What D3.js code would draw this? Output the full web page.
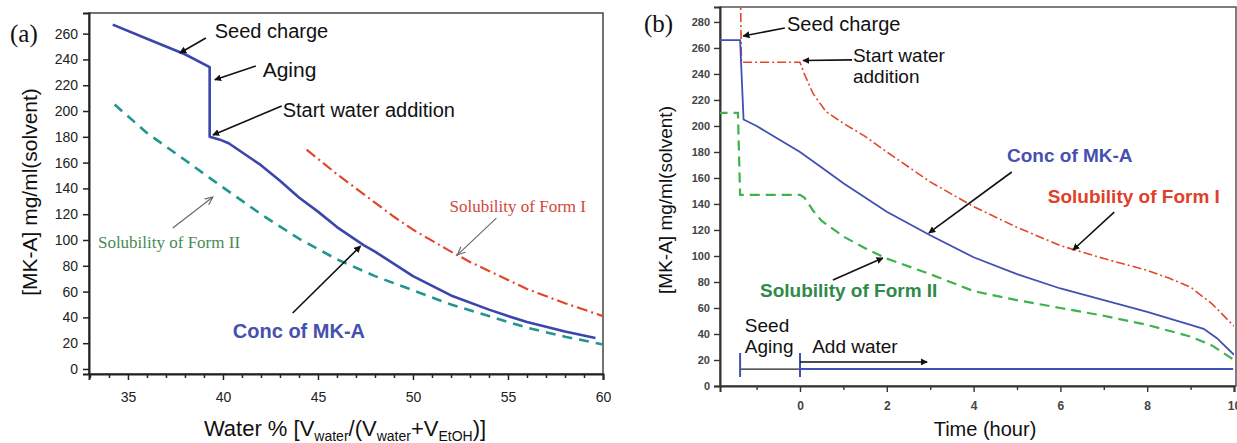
<!DOCTYPE html>
<html>
<head>
<meta charset="utf-8">
<script src="https://cdn.jsdelivr.net/npm/d3@7"></script>
<style>
  body { margin: 0; background: #fff; }
  svg { display: block; font-family: Arial, "Liberation Sans", sans-serif; }
</style>
</head>
<body>
<svg id="chart" width="1237" height="443"></svg>
<script>
// ---- panel (a): concentration vs water % ----
const concA = [[34.2,267],[36,256],[38,244],[39.3,234],[39.3,180],[39.8,178],[40.3,175],[41,168],[41.6,162],[42,158],[43,146],[44,133],[45,122],[46,110],[47.4,96],[48,91],[50,72],[52,57],[54,46],[55,41],[56,36.5],[58,29],[59.6,24]];
const formIIA = [[34.3,205],[36,183],[38,162],[39.5,146],[42,120],[44,101],[46,85],[48,72],[50,61],[52,50],[54,41],[56,32],[58,25],[60,19]];
const formIA = [[44.4,170],[45,163],[46,151],[47,140],[48,129],[49,118],[50,108],[52,91],[53,83],[54,76],[55,69],[56,62],[58,51],[60,41]];
const yTicksA = d3.range(0, 261, 20);
const xTicksA = [35, 40, 45, 50, 55, 60];
const xMinorA = d3.range(33, 61, 1);

// ---- panel (b): concentration vs time ----
const concB = [[-1.9,266],[-1.38,266],[-1.3,205],[-1,200],[-0.5,190],[0,180],[0.5,168],[1,156],[2,134],[3,116],[4,99],[5,86],[6,75],[7,66],[8,57],[9,47],[9.3,44],[9.6,37],[10,24]];
const formIB = [[-1.37,300],[-1.35,249],[0,249],[0.1,240],[0.3,225],[0.6,211],[1,202],[1.5,192],[2,180],[3,157],[4,138],[5,122],[6,108],[7,98],[8,89],[8.5,83],[9,76],[9.5,63],[10,46]];
const formIIB = [[-1.9,210],[-1.43,210],[-1.38,147],[0,147],[0.1,145],[0.3,135],[0.5,127],[1,115],[1.5,106],[2,98],[3,86],[4,73],[5,66],[6,60],[7,54],[8,47],[9,38],[9.5,31],[10,20]];
const yTicksB = d3.range(0, 281, 20);
const xTicksB = [0, 2, 4, 6, 8, 10];
const xMinorB = [-1, 1, 3, 5, 7, 9];
const phaseMarks = [-1.38, 0];

const svg = d3.select('#chart');
const defs = svg.append('defs');
function marker(id, color, open) {
  const m = defs.append('marker').attr('id', id)
    .attr('viewBox', '0 0 10 10').attr('refX', 9).attr('refY', 5)
    .attr('markerWidth', 7).attr('markerHeight', 7)
    .attr('markerUnits', 'userSpaceOnUse').attr('orient', 'auto');
  if (open) {
    m.attr('markerWidth', 9).attr('markerHeight', 9);
    m.append('path').attr('d', 'M0,1 L9,5 L0,9').attr('fill', 'none').attr('stroke', color).attr('stroke-width', 1.2);
  } else {
    m.append('path').attr('d', 'M0,0 L10,5 L0,10 z').attr('fill', color);
  }
}
marker('ab', '#111', false);
marker('ag', '#666', true);

function arrow(g, x, y, p, color, mk, w) {
  g.append('line')
    .attr('x1', x(p[0])).attr('y1', y(p[1]))
    .attr('x2', x(p[2])).attr('y2', y(p[3]))
    .attr('stroke', color).attr('stroke-width', w)
    .attr('marker-end', `url(#${mk})`);
}
function label(g, x, y, pos, txt, size, color, opts = {}) {
  return g.append('text')
    .attr('x', x(pos[0])).attr('y', y(pos[1]))
    .attr('font-size', size).attr('fill', color)
    .attr('font-weight', opts.bold ? 'bold' : null)
    .attr('font-family', opts.serif ? '"Liberation Serif", "Times New Roman", serif' : null)
    .text(txt);
}

// ================= panel (a) =================
const xA = d3.scaleLinear().domain([32.95, 60]).range([89, 603]);
const yA = d3.scaleLinear().domain([-3.9, 276]).range([374, 13]);
const gA = svg.append('g');

gA.append('rect').attr('x', 89).attr('y', 13).attr('width', 514).attr('height', 361)
  .attr('fill', 'none').attr('stroke', '#444').attr('stroke-width', 1.5);

const yAxisA = gA.append('g').attr('transform', 'translate(89,0)')
  .call(d3.axisLeft(yA).tickValues(yTicksA).tickSize(6).tickPadding(5));
const xAxisA = gA.append('g').attr('transform', 'translate(0,374)')
  .call(d3.axisBottom(xA).tickValues(xTicksA).tickSize(6).tickPadding(12));
gA.append('g').attr('transform', 'translate(0,374)')
  .call(d3.axisBottom(xA).tickValues(xMinorA.filter(v => !xTicksA.includes(v))).tickSize(4).tickFormat(''))
  .call(g => g.select('.domain').remove());
[yAxisA, xAxisA].forEach(a => {
  a.select('.domain').attr('stroke', '#222').attr('stroke-width', 2);
  a.selectAll('text').attr('font-size', 14).attr('fill', '#222').attr('font-family', 'Arial, sans-serif');
});
gA.selectAll('.tick line').attr('stroke', '#222').attr('stroke-width', 1.5);

const lineA = d3.line().x(d => xA(d[0])).y(d => yA(d[1])).curve(d3.curveLinear);
gA.append('path').datum(formIIA).attr('d', lineA).attr('fill', 'none')
  .attr('stroke', '#23958f').attr('stroke-width', 2.6).attr('stroke-dasharray', '10,7');
gA.append('path').datum(formIA).attr('d', lineA).attr('fill', 'none')
  .attr('stroke', '#e2462a').attr('stroke-width', 2.2).attr('stroke-dasharray', '11,4,2,4');
gA.append('path').datum(concA).attr('d', lineA).attr('fill', 'none')
  .attr('stroke', '#3a46ab').attr('stroke-width', 2.6).attr('stroke-linejoin', 'round');

label(gA, xA, yA, [39.57, 256.6], 'Seed charge', 20, '#111');
arrow(gA, xA, yA, [39.1, 256.6, 37.73, 245], '#111', 'ab', 1.6);
label(gA, xA, yA, [42.09, 226.4], 'Aging', 21, '#111');
arrow(gA, xA, yA, [41.73, 234.9, 39.57, 224.2], '#111', 'ab', 1.6);
label(gA, xA, yA, [43.14, 195.4], 'Start water addition', 20, '#111');
arrow(gA, xA, yA, [43.09, 203.9, 39.47, 181.4], '#111', 'ab', 1.6);
label(gA, xA, yA, [51.92, 121.7], 'Solubility of Form I', 17, '#d0483a', { serif: true });
arrow(gA, xA, yA, [54.39, 117.0, 52.34, 88.4], '#666', 'ag', 1.1);
label(gA, xA, yA, [33.42, 93.8], 'Solubility of Form II', 17, '#4a8a55', { serif: true });
arrow(gA, xA, yA, [37.36, 109.3, 39.47, 133.3], '#666', 'ag', 1.1);
label(gA, xA, yA, [40.52, 24], 'Conc of MK-A', 20, '#4650ae', { bold: true });
arrow(gA, xA, yA, [43.67, 43.4, 47.24, 95.3], '#111', 'ab', 1.6);

gA.append('text').attr('x', 10).attr('y', 42).attr('font-size', 25)
  .attr('font-family', '"Liberation Serif", serif').attr('fill', '#111').text('(a)');
gA.append('text').attr('transform', 'translate(37,192) rotate(-90)')
  .attr('text-anchor', 'middle').attr('font-size', 21).attr('fill', '#111')
  .text('[MK-A] mg/ml(solvent)');
const xl = gA.append('text').attr('x', 345).attr('y', 436).attr('text-anchor', 'middle')
  .attr('font-size', 22).attr('fill', '#111');
xl.append('tspan').text('Water % [V');
xl.append('tspan').attr('font-size', 14).attr('dy', 5).text('water');
xl.append('tspan').attr('dy', -5).text('/(V');
xl.append('tspan').attr('font-size', 14).attr('dy', 5).text('water');
xl.append('tspan').attr('dy', -5).text('+V');
xl.append('tspan').attr('font-size', 14).attr('dy', 5).text('EtOH');
xl.append('tspan').attr('dy', -5).text(')]');

// ================= panel (b) =================
const xB = d3.scaleLinear().domain([-1.843, 10]).range([720, 1234]);
const yB = d3.scaleLinear().domain([0, 291.5]).range([386, 7]);
const gB = svg.append('g');
defs.append('clipPath').attr('id', 'clipB').append('rect')
  .attr('x', 720).attr('y', 7).attr('width', 514).attr('height', 379);

gB.append('rect').attr('x', 720).attr('y', 7).attr('width', 516).attr('height', 379)
  .attr('fill', 'none').attr('stroke', '#555').attr('stroke-width', 1.5);

const yAxisB = gB.append('g').attr('transform', 'translate(720,0)')
  .call(d3.axisLeft(yB).tickValues(yTicksB).tickSize(6).tickPadding(4));
const xAxisB = gB.append('g').attr('transform', 'translate(0,386)')
  .call(d3.axisBottom(xB).tickValues(xTicksB).tickSize(6).tickPadding(9));
gB.append('g').attr('transform', 'translate(0,386)')
  .call(d3.axisBottom(xB).tickValues(xMinorB).tickSize(4).tickFormat(''))
  .call(g => g.select('.domain').remove());
[yAxisB, xAxisB].forEach(a => {
  a.select('.domain').attr('stroke', '#333').attr('stroke-width', 2);
  a.selectAll('text').attr('font-size', 11).attr('font-weight', 'bold').attr('fill', '#444')
    .attr('font-family', 'Arial, sans-serif');
});
xAxisB.selectAll('text').attr('font-size', 12);
gB.selectAll('.tick line').attr('stroke', '#333').attr('stroke-width', 1.4);

const lineB = d3.line().x(d => xB(d[0])).y(d => yB(d[1])).curve(d3.curveLinear);
const plotB = gB.append('g').attr('clip-path', 'url(#clipB)');
plotB.append('path').datum(formIIB).attr('d', lineB).attr('fill', 'none')
  .attr('stroke', '#3db24d').attr('stroke-width', 2.2).attr('stroke-dasharray', '10,6');
plotB.append('path').datum(formIB).attr('d', lineB).attr('fill', 'none')
  .attr('stroke', '#e2462a').attr('stroke-width', 1.6).attr('stroke-dasharray', '9,3,2,3');
plotB.append('path').datum(concB).attr('d', lineB).attr('fill', 'none')
  .attr('stroke', '#4150b2').attr('stroke-width', 1.8);

// phase timeline
plotB.append('line').attr('x1', xB(phaseMarks[0])).attr('x2', xB(phaseMarks[1]))
  .attr('y1', yB(13)).attr('y2', yB(13)).attr('stroke', '#222').attr('stroke-width', 1.4);
plotB.append('line').attr('x1', xB(phaseMarks[1])).attr('x2', xB(9.98))
  .attr('y1', yB(13)).attr('y2', yB(13)).attr('stroke', '#4150b2').attr('stroke-width', 2);
plotB.selectAll('.phase').data(phaseMarks).join('line').attr('class', 'phase')
  .attr('x1', d => xB(d)).attr('x2', d => xB(d))
  .attr('y1', yB(25.4)).attr('y2', yB(6.9)).attr('stroke', '#4150b2').attr('stroke-width', 2);
arrow(gB, xB, yB, [0, 18.5, 2.93, 18.5], '#111', 'ab', 1.4);

label(gB, xB, yB, [-0.30, 273], 'Seed charge', 20, '#111');
arrow(gB, xB, yB, [-0.35, 275.4, -1.31, 269.2], '#111', 'ab', 1.6);
label(gB, xB, yB, [1.22, 249], 'Start water', 19, '#111');
label(gB, xB, yB, [1.22, 233], 'addition', 19, '#111');
arrow(gB, xB, yB, [1.2, 250.8, 0.07, 250.3], '#111', 'ab', 1.6);
label(gB, xB, yB, [4.77, 172.3], 'Conc of MK-A', 19, '#4650ae', { bold: true });
arrow(gB, xB, yB, [4.88, 164.6, 2.97, 117.7], '#111', 'ab', 1.6);
label(gB, xB, yB, [5.71, 140.8], 'Solubility of Form I', 19, '#e0402a', { bold: true });
arrow(gB, xB, yB, [7.24, 133.8, 6.29, 104.6], '#111', 'ab', 1.6);
label(gB, xB, yB, [-0.92, 68.5], 'Solubility of Form II', 19, '#2e8a48', { bold: true });
arrow(gB, xB, yB, [0.76, 81.5, 1.91, 98.5], '#111', 'ab', 1.6);
label(gB, xB, yB, [-1.27, 41.5], 'Seed', 19, '#111');
label(gB, xB, yB, [-1.27, 25.4], 'Aging', 19, '#111');
label(gB, xB, yB, [0.28, 25.4], 'Add water', 19, '#111');

gB.append('text').attr('x', 644).attr('y', 32).attr('font-size', 25)
  .attr('font-family', '"Liberation Serif", serif').attr('fill', '#111').text('(b)');
gB.append('text').attr('transform', 'translate(672,200) rotate(-90)')
  .attr('text-anchor', 'middle').attr('font-size', 19).attr('fill', '#111')
  .text('[MK-A] mg/ml(solvent)');
gB.append('text').attr('x', 985).attr('y', 436).attr('text-anchor', 'middle')
  .attr('font-size', 20).attr('fill', '#111').text('Time (hour)');
</script>
</body>
</html>
